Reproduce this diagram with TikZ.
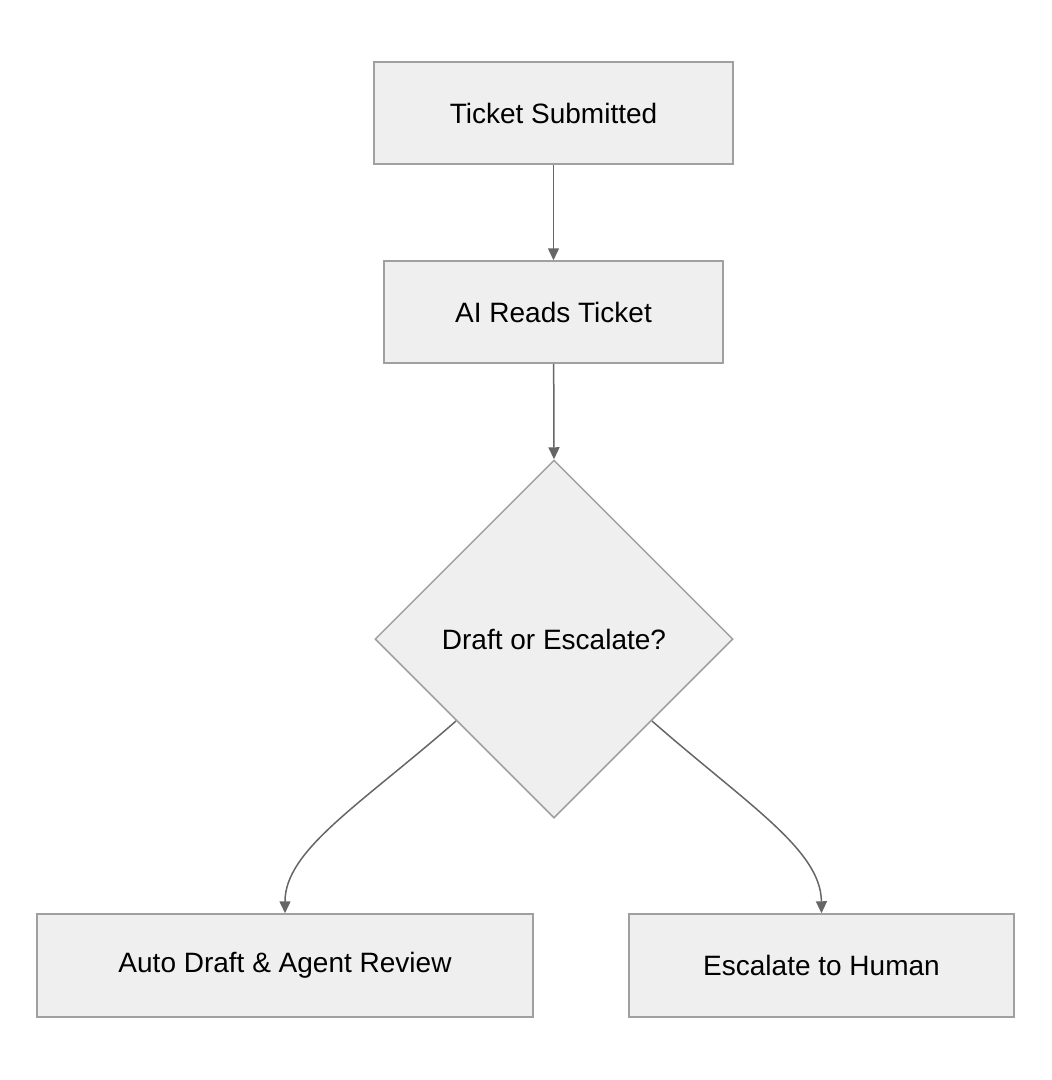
\documentclass[tikz,border=0pt]{standalone}
\usepackage{fontspec}
\setmainfont{Liberation Sans}
\usetikzlibrary{shapes.geometric,arrows.meta}
\definecolor{boxfill}{HTML}{EFEFEF}
\definecolor{boxline}{HTML}{A0A0A0}
\definecolor{edge}{HTML}{666666}
\begin{document}
\begin{tikzpicture}[x=1pt,y=-1pt,
  box/.style={draw=boxline,fill=boxfill,line width=1.5pt,inner sep=0pt,font=\fontsize{28}{32}\selectfont},
  arr/.style={draw=edge,line width=1.5pt,-{Triangle[length=12pt,width=11pt]}}]
\useasboundingbox (0,0) rectangle (1052,1080);
\node[box,minimum width=359pt,minimum height=102pt] (t) at (553.5,113) {Ticket Submitted};
\node[box,minimum width=339pt,minimum height=102pt] (a) at (553.5,312) {AI Reads Ticket};
\node[box,diamond,minimum width=358pt,minimum height=358pt] (d) at (554,639) {Draft or Escalate?};
\node[box,minimum width=496pt,minimum height=103pt] (l) at (285,965.5) {Auto Draft \& Agent Review};
\node[box,minimum width=385pt,minimum height=103pt] (r) at (821.5,965.5) {Escalate to Human};
\draw[arr] (t) -- (a);
\draw[arr] (a) -- (d.north);
\coordinate (ls) at (456,721);
\coordinate (rs) at (652,721);
\draw[arr] (ls) .. controls (360,805) and (285,850) .. (l.north);
\draw[arr] (rs) .. controls (748,805) and (821,850) .. (r.north);
\end{tikzpicture}
\end{document}
